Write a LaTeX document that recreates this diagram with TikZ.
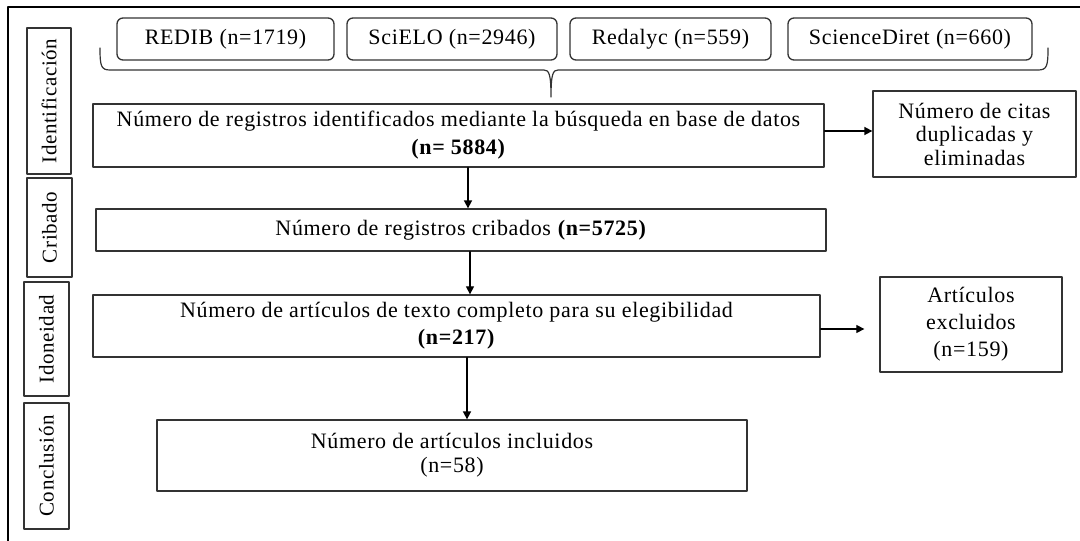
\documentclass[tikz,border=0pt]{standalone}
\usepackage{fontspec}
\setmainfont[LetterSpace=3]{Liberation Serif}
\usetikzlibrary{arrows.meta}
\usetikzlibrary{positioning}
\definecolor{boxgray}{rgb}{0.2,0.2,0.2}

\begin{document}
\begin{tikzpicture}[line cap=round,line join=round,x=1pt,y=-1pt,
  font=\fontsize{22}{25}\selectfont,
  box/.style={draw=boxgray, line width=1.3pt, align=center, inner sep=0pt},
  dbbox/.style={box, rounded corners=6pt},
  stage/.style={box, line width=2pt, rotate=90, font=\fontsize{21}{25}\selectfont},
  arr/.style={line width=1.2pt, -{Triangle[length=8pt, width=8pt]}}]
\useasboundingbox (0,0) rectangle (1080,541);
\draw[line width=1.2pt] (8,541) -- (8,7) -- (1080,7);

\node[stage, minimum width=146, minimum height=44] (ident) at (49,101) {Identificación};
\node[stage, minimum width=99, minimum height=45] (crib) at (49.5,227.5) {Cribado};
\node[stage, minimum width=114, minimum height=45] (idon) at (46.5,339) {Idoneidad};
\node[stage, minimum width=126, minimum height=45] (concl) at (46.5,466) {Conclusión};

\node[dbbox, minimum width=217, minimum height=42] (redib) at (225.5,39) {REDIB (n=1719)};
\node[dbbox, minimum width=210, minimum height=42] (scielo) at (452,39) {SciELO (n=2946)};
\node[dbbox, minimum width=201, minimum height=42] (redalyc) at (670.5,39) {Redalyc (n=559)};
\node[dbbox, minimum width=244, minimum height=42] (scidir) at (910,39) {ScienceDiret (n=660)};

\draw[boxgray, line width=1.2pt] (100,48) .. controls (100,66) and (101,70) .. (110,70)
  -- (544,70) .. controls (549,70) and (551,74) .. (551,97)
  .. controls (551,74) and (553,70) .. (558,70) -- (1038,70)
  .. controls (1047,70) and (1048,66) .. (1048,48);

\node[box, minimum width=731, minimum height=63, font=\fontsize{22}{28}\selectfont] (regid) at (458.5,135.5)
  {Número de registros identificados mediante la búsqueda en base de datos\\ \textbf{(n= 5884)}};
\node[box, minimum width=203, minimum height=86, font=\fontsize{22}{23.5}\selectfont] (dup) at (974.5,134)
  {Número de citas\\ duplicadas y\\ eliminadas};
\node[box, minimum width=730, minimum height=42] (regcrib) at (461,230)
  {Número de registros cribados \textbf{(n=5725)}};
\node[box, minimum width=727, minimum height=62, font=\fontsize{22}{27}\selectfont] (texto) at (456.5,326)
  {Número de artículos de texto completo para su elegibilidad\\ \textbf{(n=217)}};
\node[box, minimum width=182, minimum height=95, font=\fontsize{22}{27}\selectfont] (excl) at (971,324.5)
  {Artículos\\ excluidos\\ (n=159)};
\node[box, minimum width=590, minimum height=71, font=\fontsize{22}{24}\selectfont] (incl) at (452,455.5)
  {Número de artículos incluidos\\ (n=58)};

\draw[arr, line width=1.6pt] ([yshift=4.5pt]regid.east) -- ([yshift=4.5pt]regid.east -| dup.west);
\draw[arr, line width=1.6pt] ([xshift=9.5pt]regid.south) -- ([xshift=9.5pt]regid.south |- regcrib.north);
\draw[arr] ([xshift=9pt]regcrib.south) -- ([xshift=9pt]regcrib.south |- texto.north);
\draw[arr] ([yshift=-3pt]texto.east) -- ([yshift=-3pt,xshift=-15pt]texto.east -| excl.west);
\draw[arr, line width=1.6pt] ([xshift=10.5pt]texto.south) -- ([xshift=10.5pt]texto.south |- incl.north);
\end{tikzpicture}
\end{document}
